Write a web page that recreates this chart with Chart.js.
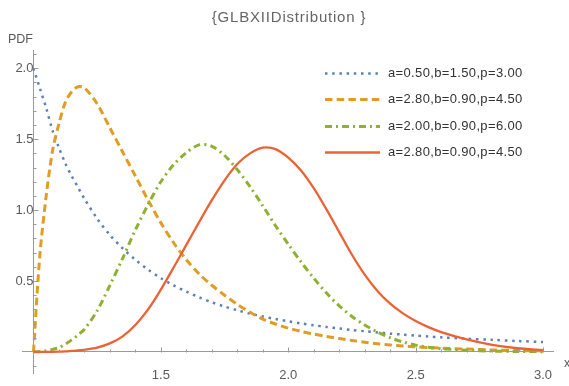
<!DOCTYPE html>
<html>
<head>
<meta charset="utf-8">
<script src="https://cdn.jsdelivr.net/npm/chart.js@4/dist/chart.umd.min.js"></script>
<style>
html,body{margin:0;padding:0;background:#fff;}
#wrap{position:relative;width:569px;height:386px;}
</style>
</head>
<body>
<div id="wrap"><canvas id="chart" width="569" height="386"></canvas></div>
<script>
const xs=[1.0,1.025,1.05,1.075,1.1,1.125,1.15,1.175,1.2,
1.25,1.3,1.35,1.4,1.45,1.5,1.55,1.6,1.65,1.7,1.75,1.8,1.85,1.9,1.95,2.0,2.05,2.1,2.15,2.2,2.25,2.3,2.35,2.4,2.45,2.5,2.55,2.6,
2.7,2.8,2.9,3.0];

const pdfA=[2.0,1.86,1.72,1.56,1.44,1.33,1.24,1.16,1.08,
0.94,0.825,0.73,0.65,0.58,0.52,0.47,0.425,0.385,0.35,0.32,0.294,0.27,0.25,0.232,0.216,0.201,0.188,0.176,0.165,0.155,0.146,0.137,0.129,0.122,0.115,0.109,0.103,
0.093,0.085,0.077,0.07];

const pdfB=[0,0.68,1.10,1.42,1.61,1.76,1.835,1.87,1.862,
1.75,1.58,1.41,1.24,1.07,0.91,0.77,0.65,0.55,0.47,0.40,0.335,0.28,0.232,0.197,0.168,0.145,0.126,0.109,0.094,0.081,0.069,0.058,0.049,0.042,0.036,0.031,0.027,
0.02,0.014,0.01,0.007];

const pdfC=[0,0.002,0.008,0.018,0.03,0.055,0.085,0.12,0.16,
0.29,0.47,0.66,0.86,1.04,1.20,1.32,1.405,1.46,1.45,1.385,1.285,1.165,1.03,0.89,0.76,0.635,0.52,0.415,0.325,0.25,0.19,0.14,0.10,0.07,0.048,0.033,0.023,
0.012,0.006,0.003,0.002];

const pdfD=[0,0,0.0005,0.001,0.002,0.004,0.007,0.01,0.015,
0.03,0.06,0.11,0.19,0.30,0.44,0.595,0.755,0.915,1.07,1.21,1.325,1.40,1.44,1.43,1.37,1.28,1.155,1.005,0.845,0.685,0.545,0.43,0.34,0.272,0.218,0.175,0.14,
0.088,0.05,0.026,0.013];

const seriesLabels=["a=0.50,b=1.50,p=3.00","a=2.80,b=0.90,p=4.50","a=2.00,b=0.90,p=6.00","a=2.80,b=0.90,p=4.50"];
const xLabelTicks=[1.5,2.0,2.5,3.0];
const yLabelTicks=[0.5,1.0,1.5,2.0];

const axisColor="#9a9a9a";
const labelColor="#5a5a5a";
const FONT="'Liberation Sans', Arial, sans-serif";

function pts(ys){return xs.map((x,i)=>({x:x,y:ys[i]}));}

const styles=[
{color:"#5E81B5",width:2.5,dash:[2.5,4.7]},
{color:"#E19C24",width:3,dash:[7.5,4.2]},
{color:"#8FB032",width:3,dash:[7,4,2,4]},
{color:"#EB6235",width:2.3,dash:[]}
];
const allY=[pdfA,pdfB,pdfC,pdfD];

const datasets=allY.map((ys,i)=>({
label:seriesLabels[i],
data:pts(ys),
borderColor:styles[i].color,
borderWidth:styles[i].width,
borderDash:styles[i].dash,
borderCapStyle:"butt",
borderJoinStyle:"round",
pointRadius:0,
fill:false,
tension:0.3,
order:4-i
}));

const isIn=(v,list)=>list.some(m=>Math.abs(v-m)<1e-6);

const decor={
id:"decor",
afterDraw(chart){
const ctx=chart.ctx;
const x=chart.scales.x,y=chart.scales.y;
const x0=Math.round(x.getPixelForValue(1))+0.5;
const y0=Math.round(y.getPixelForValue(0))+0.5;
ctx.save();
ctx.strokeStyle=axisColor;
ctx.lineWidth=1;
x.ticks.forEach(t=>{
if(Math.abs(t.value-1)<1e-6) return;
const px=Math.round(x.getPixelForValue(t.value))+0.5;
const len=isIn(t.value,xLabelTicks)?5:3;
ctx.beginPath();ctx.moveTo(px,y0);ctx.lineTo(px,y0-len);ctx.stroke();
});
y.ticks.forEach(t=>{
if(Math.abs(t.value)<1e-6) return;
const py=Math.round(y.getPixelForValue(t.value))+0.5;
const len=isIn(t.value,yLabelTicks)?5:3;
ctx.beginPath();ctx.moveTo(x0,py);ctx.lineTo(x0+len,py);ctx.stroke();
});

// legend, top right
const legX=325,legW=55,legY=73,legGap=26.4;
chart.data.datasets.forEach((ds,i)=>{
const ly=Math.round(legY+i*legGap)+0.5;
ctx.strokeStyle=ds.borderColor;
ctx.lineWidth=ds.borderWidth;
ctx.setLineDash(ds.borderDash);
ctx.lineCap="butt";
ctx.beginPath();ctx.moveTo(legX,ly);ctx.lineTo(legX+legW,ly);ctx.stroke();
ctx.setLineDash([]);
ctx.fillStyle="#333";
ctx.font="13px "+FONT;
ctx.letterSpacing="0.35px";
ctx.textBaseline="middle";
ctx.textAlign="left";
ctx.fillText(ds.label,388,ly);
});

ctx.fillStyle="#666";
ctx.font="15px "+FONT;
ctx.letterSpacing="0.8px";
ctx.textAlign="center";
ctx.textBaseline="middle";
ctx.fillText("{GLBXIIDistribution }",289,18);
ctx.letterSpacing="0px";
ctx.font="12.5px "+FONT;
ctx.textAlign="left";
ctx.fillStyle=labelColor;
ctx.fillText("PDF",8,40);
ctx.fillText("x",564,364);
ctx.restore();
}
};

new Chart(document.getElementById("chart"),{
type:"line",
data:{datasets},
options:{
responsive:false,
animation:false,
events:[],
devicePixelRatio:1,
layout:{padding:{left:22,right:16,top:50,bottom:1}},
plugins:{legend:{display:false},tooltip:{enabled:false}},
scales:{
x:{
type:"linear",
min:0.955,max:3.039,
position:{y:0},
grid:{display:false,drawTicks:false},
border:{display:true,color:axisColor,width:1},
ticks:{
stepSize:0.1,includeBounds:false,autoSkip:false,maxRotation:0,
padding:16,color:labelColor,font:{family:FONT,size:13},
callback:(v)=>isIn(v,xLabelTicks)?v.toFixed(1):""
}
},
y:{
type:"linear",
min:-0.15,max:2.129,
position:{x:1},
grid:{display:false,drawTicks:false},
border:{display:true,color:axisColor,width:1},
ticks:{
stepSize:0.1,includeBounds:false,autoSkip:false,
padding:5,color:labelColor,font:{family:FONT,size:13},
callback:(v)=>isIn(v,yLabelTicks)?v.toFixed(1):""
}
}
}
},
plugins:[decor]
});
</script>
</body>
</html>
